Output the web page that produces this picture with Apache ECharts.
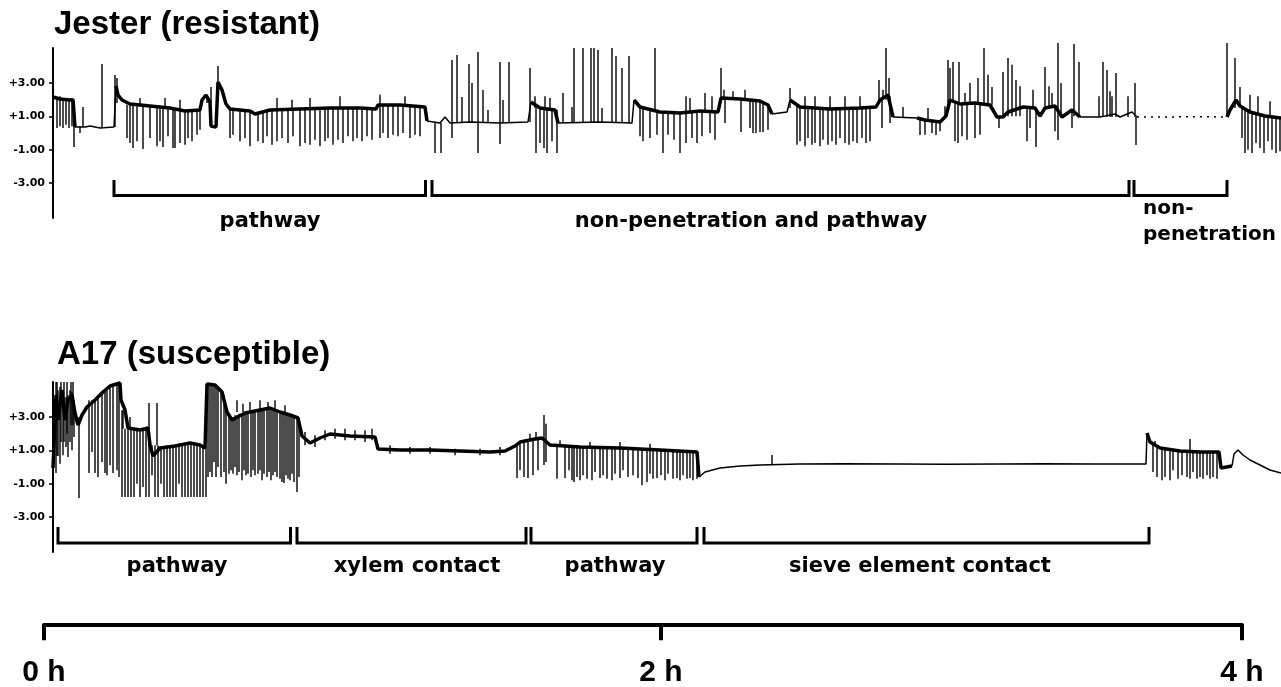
<!DOCTYPE html>
<html>
<head>
<meta charset="utf-8">
<title>EPG traces</title>
<script src="https://cdn.jsdelivr.net/npm/echarts@6/dist/echarts.min.js"></script>
<style>
  html, body { margin: 0; padding: 0; background: #fff; }
  #chart { width: 1281px; height: 687px; }
</style>
</head>
<body>
<div id="chart"></div>
<script>
// time in minutes from the start of the recording, signal in volts

const yTicks = [-3, -1, 1, 3]
// the middle mark of the scale bar sits a little right of halfway in the figure
const timeTicks = [0, 123.6, 240]
const timeTickLabels = ['0 h', '2 h', '4 h']

// Jester (resistant): noisy band, quiet baseline, dotted stretch
const jesterBand = [
  [[1.8, 2.16], [3.2, 2.04], [5.2, 1.98], [5.8, 2.0], [6.2, 0.36]],
  [[14.4, 2.82], [14.8, 2.28], [15.6, 1.98], [17.2, 1.74], [21.2, 1.62], [25.2, 1.5], [28.2, 1.32], [31.2, 1.38], [31.6, 1.98], [32.4, 2.28], [33.2, 1.86], [33.4, 0.42], [34.4, 0.36], [34.8, 3.06], [35.6, 2.58], [36.4, 1.74], [37.2, 1.44], [41.2, 1.32], [42.2, 1.14], [45.2, 1.38], [51.2, 1.44], [57.2, 1.5], [63.2, 1.5], [66.4, 1.44], [66.8, 1.68], [71.2, 1.68], [76.2, 1.56], [76.6, 0.72]],
  [[97.4, 1.86], [99.2, 1.5], [102.2, 1.38], [102.8, 0.6]],
  [[118.0, 1.98], [119.2, 1.56], [123.2, 1.26], [127.2, 1.2], [131.2, 1.32], [134.8, 1.26], [135.4, 2.1], [139.2, 2.04], [143.2, 1.92], [144.8, 1.68], [145.6, 1.14]],
  [[149.2, 1.98], [151.2, 1.56], [157.2, 1.44], [163.2, 1.5], [166.4, 1.56], [167.2, 1.98], [168.8, 2.28], [169.8, 0.96]],
  [[174.6, 0.9], [176.2, 0.78], [179.2, 0.66], [180.4, 1.02], [181.2, 1.98], [183.2, 1.74], [186.2, 1.8], [189.2, 1.68], [190.6, 0.96], [191.8, 0.96], [192.8, 1.26], [195.8, 1.56], [198.2, 1.5], [199.2, 1.02], [200.2, 1.5], [202.2, 1.62], [203.6, 0.96], [205.6, 1.38], [207.2, 0.96]],
  [[236.6, 0.96], [237.2, 1.38], [238.4, 1.98], [239.2, 1.62], [241.2, 1.26], [244.2, 1.02], [247.4, 0.9]]
]
const jesterQuiet = [
  [[6.2, 0.36], [8.2, 0.36], [9.2, 0.42], [11.2, 0.3], [14.0, 0.36], [14.4, 2.82]],
  [[76.6, 0.72], [79.2, 0.6], [80.2, 0.96], [81.2, 0.6], [85.2, 0.66], [91.2, 0.6], [96.8, 0.66], [97.4, 1.86]],
  [[102.8, 0.6], [111.2, 0.66], [117.6, 0.6], [118.0, 1.98]],
  [[145.6, 1.14], [148.6, 1.26], [149.2, 1.98]],
  [[169.8, 0.96], [174.6, 0.9]],
  [[207.2, 0.96], [211.2, 0.96], [214.2, 1.14], [215.2, 0.96], [217.6, 1.26], [218.6, 0.96]]
]
const jesterDotted = [
  [[218.6, 0.96], [224.0, 0.96], [230.0, 0.98], [236.6, 0.96]]
]
// [time, low, high]
const jesterSpikes = [
  [2.6, 0.3, 2.1], [3.2, 0.4, 2.2], [3.8, 0.3, 2.0], [4.4, 0.5, 2.1], [5.0, 0.3, 2.0], [5.6, 0.4, 2.0], [6.0, -0.84, 0.4],
  [7.2, 0, 0.4], [7.8, 0.36, 1.56], [11.6, 0.3, 4.14], [14.2, 0.36, 3.48], [14.6, 1.8, 3.3],
  [16.6, -0.3, 1.7], [17.2, -0.6, 1.7], [17.8, -0.9, 1.7], [18.6, -0.5, 1.6], [19.8, -0.96, 1.6], [21.2, -0.3, 1.6], [22.6, -0.8, 1.6], [23.2, -0.5, 1.6], [23.8, -0.84, 1.55], [24.8, -0.2, 1.5], [25.8, -0.9, 1.5], [26.2, -0.9, 1.5], [27.2, -0.6, 1.4], [28.2, -0.7, 1.35], [28.8, -0.3, 1.35], [29.6, -0.5, 1.35], [30.6, -0.1, 1.4], [31.2, 0.2, 1.4],
  [19.2, 1.6, 2.1], [24.2, 1.5, 2.1], [27.2, 1.4, 2.0],
  [32.6, 1.8, 2.3], [33.4, 1.8, 2.76], [34.8, 2.5, 4.02],
  [37.2, -0.3, 1.45], [37.8, -0.1, 1.45], [39.2, -0.5, 1.4], [40.2, -0.3, 1.35], [41.2, -0.8, 1.3], [42.8, -0.5, 1.2], [43.8, -0.6, 1.3], [44.6, -0.2, 1.35], [45.6, -0.7, 1.4], [46.6, -0.5, 1.4], [47.6, -0.3, 1.4], [48.8, -0.6, 1.4], [49.8, -0.2, 1.45], [51.2, -0.8, 1.45], [52.2, -0.6, 1.45], [53.2, -0.7, 1.45], [54.2, -0.4, 1.5], [55.2, -0.8, 1.5], [56.2, -0.5, 1.5], [56.8, -0.3, 1.5], [57.8, -0.7, 1.5], [58.8, -0.4, 1.5], [59.8, -0.6, 1.5], [60.8, -0.2, 1.5], [61.8, -0.5, 1.5], [62.6, -0.3, 1.5], [63.6, -0.5, 1.5], [64.6, -0.2, 1.45], [65.6, -0.4, 1.45], [67.2, -0.3, 1.7], [67.8, 0.0, 1.7], [68.8, -0.3, 1.7], [69.8, -0.1, 1.7], [70.8, -0.2, 1.7], [71.8, 0, 1.7], [73.2, -0.3, 1.6], [74.2, -0.1, 1.6], [75.2, -0.2, 1.6],
  [46.6, 1.4, 2.1], [49.6, 1.4, 2.0], [53.2, 1.4, 2.1], [59.2, 1.5, 2.2], [67.2, 1.6, 2.3], [72.2, 1.6, 2.2],
  [78.2, -1.2, 0.6], [79.4, -1.2, 0.6],
  [81.6, -0.3, 4.38], [82.6, 0.6, 4.68], [83.6, 0.6, 2.16], [85.0, 0.6, 4.14], [85.6, 0.6, 3.0], [86.8, -1.2, 4.86], [87.8, 0.6, 2.58], [88.8, 0.6, 1.38], [91.2, -0.66, 4.26], [91.8, 0.6, 1.98], [93.0, 0.6, 4.26], [97.2, 0.66, 3.9],
  [98.4, -1.2, 1.5], [99.2, -0.6, 1.5], [100.0, -0.9, 1.5], [100.6, -1.2, 1.5], [101.6, -0.5, 1.4], [102.6, -1.2, 1.4], [98.2, 1.5, 2.2], [100.2, 1.5, 2.2], [101.2, 1.4, 2.1],
  [103.8, 0.6, 2.4], [105.6, 0.6, 1.56], [106.0, 0.6, 5.1], [107.8, 0.6, 5.1], [109.4, 0.6, 5.1], [110.0, 0.6, 5.1], [110.8, 0.6, 4.98], [111.6, 0.6, 1.5], [113.6, 0.6, 5.1], [114.4, 0.6, 4.62], [115.6, 0.6, 3.9], [117.0, 0.6, 4.62],
  [119.2, -0.2, 1.5], [119.8, -0.5, 1.5], [121.2, -0.3, 1.4], [122.6, -0.1, 1.3], [123.8, -1.2, 1.3], [124.8, -0.1, 1.25], [126.0, -0.4, 1.2], [127.2, -1.2, 1.2], [128.4, -0.6, 1.25], [129.6, -0.3, 1.3], [130.6, -0.6, 1.3], [131.6, -0.2, 1.3], [133.2, 0, 1.3], [134.2, -0.4, 1.3],
  [122.2, 1.3, 5.1], [128.4, 1.3, 2.2], [129.2, 1.3, 2.1], [132.2, 1.3, 2.4], [133.6, 1.3, 2.2],
  [135.4, 2.0, 3.9],
  [136.2, 0.6, 2.1], [139.4, 0.06, 2.05], [141.2, 0.3, 2.0], [141.8, 0.0, 2.0], [142.4, 0.0, 1.95], [143.2, 0.06, 1.9], [143.8, 0.06, 1.8], [144.8, 0.2, 1.7], [136.0, 2.0, 2.6], [137.8, 2.0, 2.5], [140.2, 2.0, 2.6],
  [149.2, 1.5, 2.7],
  [150.6, -0.7, 1.6], [151.2, -0.5, 1.55], [152.2, -0.8, 1.5], [152.8, -0.3, 1.5], [153.6, -0.7, 1.5], [154.2, -0.6, 1.5], [155.2, -0.8, 1.45], [155.8, -0.4, 1.45], [156.8, -0.7, 1.45], [157.6, -0.5, 1.45], [158.4, -0.7, 1.45], [159.2, -0.3, 1.45], [160.2, -0.6, 1.5], [161.0, -0.7, 1.5], [161.8, -0.5, 1.5], [162.6, -0.6, 1.5], [163.6, -0.3, 1.5], [164.4, -0.6, 1.55], [165.2, -0.5, 1.55],
  [152.2, 1.5, 2.2], [154.2, 1.5, 2.2], [157.2, 1.45, 2.2], [160.2, 1.5, 2.2], [163.2, 1.5, 2.2],
  [167.0, 2.0, 3.18], [167.8, 2.0, 2.6], [168.4, 2.0, 5.1], [169.0, 2.0, 3.3], [169.2, 0.6, 2.2], [167.6, 0.3, 2.1],
  [171.8, 0.9, 1.56],
  [175.2, -0.12, 0.9], [176.2, -0.1, 0.8], [177.6, 0.0, 0.7], [178.4, -0.12, 0.7], [179.2, 0.1, 0.7], [176.8, 0.8, 1.5], [180.2, 1.0, 1.6],
  [180.8, 1.8, 4.38], [181.2, 1.8, 3.9], [181.8, 1.8, 4.26], [183.0, 1.8, 4.26], [184.2, 1.8, 2.4], [185.2, 1.8, 3.0], [186.8, 1.8, 3.3], [188.0, 1.8, 5.1], [188.8, 1.8, 3.5], [189.6, 1.7, 2.76],
  [182.2, -0.5, 1.8], [182.8, -0.6, 1.8], [183.6, -0.2, 1.8], [184.6, -0.4, 1.8], [186.2, -0.3, 1.8], [187.2, -0.1, 1.7],
  [191.0, 0.3, 0.96], [191.8, 0.96, 3.66], [192.8, 1.0, 4.5], [193.6, 1.0, 4.1], [194.4, 1.0, 3.18], [195.2, 1.0, 2.8],
  [196.6, -0.5, 1.56], [197.2, 0.3, 1.56], [198.4, -0.84, 1.5], [197.8, 1.56, 2.6],
  [200.2, 1.5, 3.96], [201.0, 1.5, 2.8], [201.6, 1.5, 2.4], [202.2, 0.1, 1.6], [202.8, -0.42, 5.4], [203.4, 1.0, 3.0],
  [205.6, 0.3, 1.4], [206.0, 1.0, 5.34], [207.0, 1.0, 4.26],
  [211.0, 0.96, 2.2], [211.8, 0.96, 4.26], [212.6, 0.96, 3.78], [213.2, 0.96, 2.5], [213.6, 0.96, 2.2], [214.4, 0.96, 3.6],
  [216.8, 0.96, 2.2], [218.2, 0.96, 3.0], [218.4, -0.72, 0.96],
  [236.6, 0.96, 5.4], [238.2, 1.5, 4.5],
  [239.6, -0.3, 1.5], [240.2, -1.2, 1.4], [240.8, -1.0, 1.3], [241.6, -1.2, 1.3], [242.4, -0.6, 1.2], [243.2, -0.9, 1.1], [244.0, -1.2, 1.1], [244.8, -0.5, 1.0], [245.6, -1.0, 1.0], [246.4, -1.2, 1.0], [247.2, -1.1, 0.9],
  [239.2, 1.6, 2.76], [241.2, 1.3, 2.3], [242.8, 1.2, 2.2], [245.2, 1.0, 1.9]
]
const jesterBrackets = [[14.0, 76.3], [77.6, 217.0], [218.0, 236.6]]
const jesterLabels = ['pathway', 'non-penetration and pathway', 'non-\npenetration']
const jesterLabelTimes = [45.2, 141.4, 219.8]

// A17 (susceptible)
const a17Band = [
  [[1.8, -0.06], [2.2, -0.18], [2.4, 4.32], [2.8, 2.82], [3.6, 4.62], [4.2, 2.82], [4.8, 4.02], [5.6, 4.32], [6.2, 3.24], [6.8, 2.52], [7.6, 3.12], [8.6, 3.6], [10.2, 4.02], [11.8, 4.5], [13.2, 4.86], [15.2, 5.04], [15.4, 4.02], [16.2, 3.42], [16.8, 2.34], [19.2, 2.22], [20.8, 2.34], [21.2, 1.32], [21.8, 0.66], [23.2, 1.14], [26.2, 1.26], [29.2, 1.44], [31.2, 1.32], [32.2, 1.14], [32.6, 4.98], [34.2, 4.92], [35.6, 4.5], [36.6, 3.3], [37.6, 2.82], [40.2, 3.24], [43.2, 3.42], [45.2, 3.54], [47.2, 3.3], [49.2, 3.12], [50.8, 2.94], [51.6, 1.86], [53.2, 1.44], [55.2, 1.74], [57.2, 1.98], [61.2, 1.86], [66.2, 1.8], [66.8, 1.08], [71.2, 1.02], [77.2, 1.02], [83.2, 0.96], [89.2, 0.9], [92.2, 0.96], [94.2, 1.26], [95.2, 1.5], [98.2, 1.68], [99.6, 1.74], [101.2, 1.32], [107.2, 1.2], [115.2, 1.14], [123.2, 1.02], [130.6, 0.9], [131.0, -0.6]],
  [[220.6, 2.04], [221.2, 1.5], [223.2, 1.14], [227.2, 0.96], [231.2, 0.9], [235.0, 0.9], [235.4, -0.06], [237.6, 0.06]]
]
const a17Quiet = [
  [[131.0, -0.6], [132.2, -0.3], [135.2, -0.06], [139.2, 0.06], [143.2, 0.12], [151.2, 0.18], [160.0, 0.2], [171.2, 0.18], [180.0, 0.16], [191.2, 0.18], [200.0, 0.2], [210.0, 0.18], [220.4, 0.18], [220.6, 2.04]],
  [[237.6, 0.06], [238.0, 0.78], [238.8, 1.02], [239.8, 0.72], [241.2, 0.42], [243.2, 0.12], [245.2, -0.18], [247.4, -0.36]]
]
const a17Spikes = [
  [2.4, -0.36, 5.1], [2.6, 0.66, 5.1], [2.8, 0.66, 4.6], [3.2, 0.2, 4.8], [3.4, 1.5, 5.1], [3.8, 0.7, 4.6], [4.0, 1.5, 5.1], [4.4, 1.2, 4.2], [4.6, 2.0, 5.1], [4.8, 0.6, 4.3], [5.2, 1.5, 4.6], [5.4, 2.5, 5.1], [5.6, 1.0, 4.5], [5.8, 2.5, 5.1], [6.0, 1.8, 4.0],
  [7.0, -1.86, 3.0],
  [9.0, -0.36, 4.0], [9.6, 0.9, 4.0], [10.2, -0.36, 4.1], [10.8, -0.6, 4.2], [11.6, 0.3, 4.4], [12.2, -0.36, 4.5], [12.6, -0.5, 4.6], [13.2, 0.1, 4.8], [13.8, -0.36, 4.9], [14.6, -0.2, 5.0], [15.0, -0.6, 5.0], [15.6, -1.8, 3.4],
  [16.2, -1.8, 2.3], [16.8, -1.8, 2.3], [17.4, -1.8, 2.3], [18.0, -1.8, 2.3], [18.6, -1.0, 2.3], [19.2, -1.8, 2.3], [19.8, -1.2, 2.3], [20.4, -1.8, 2.3], [21.0, -1.8, 2.3],
  [15.8, 2.3, 3.4], [17.2, 2.3, 3.0], [21.0, 1.3, 3.84],
  [21.6, -0.5, 1.3], [22.2, -1.8, 1.3], [22.8, -1.8, 1.3], [23.4, -1.0, 1.2], [24.0, -1.8, 1.2], [24.6, -1.8, 1.3], [25.2, -1.8, 1.3], [25.8, -1.8, 1.3], [26.4, -1.8, 1.3], [27.0, -1.0, 1.4], [27.6, -1.8, 1.4], [28.2, -1.8, 1.4], [28.8, -1.8, 1.4], [29.4, -1.8, 1.4], [30.0, -1.8, 1.4], [30.6, -1.8, 1.3], [31.2, -1.8, 1.3], [31.8, -1.8, 1.2], [32.4, -1.8, 1.2],
  [22.6, 1.3, 3.84],
  [32.8, -0.6, 5.0], [33.2, -0.3, 5.0], [33.6, -0.6, 5.0], [34.0, 0.3, 4.9], [34.4, -0.6, 4.9], [34.8, 0.0, 4.8], [35.4, -0.6, 4.6], [36.0, -0.3, 4.3], [36.4, -1.0, 3.6],
  [37.0, -0.4, 3.0], [37.4, -0.2, 3.0], [37.8, -0.4, 3.0], [38.2, 0.0, 3.1], [38.6, -0.5, 3.1], [39.0, -0.3, 3.2], [39.6, -0.8, 3.2], [40.0, -0.2, 3.2], [40.4, -0.5, 3.3], [40.8, -0.4, 3.3], [41.4, -0.6, 3.3], [41.8, -0.2, 3.4], [42.2, -0.5, 3.4], [42.8, -0.4, 3.4], [43.2, -0.2, 3.4], [43.6, -0.8, 3.5], [44.0, -0.4, 3.5], [44.6, -0.6, 3.5], [45.0, -0.3, 3.5], [45.4, -0.8, 3.5], [45.8, -0.5, 3.4], [46.2, -0.3, 3.4], [46.6, -0.6, 3.3], [47.2, -0.7, 3.3], [47.6, -0.9, 3.2], [48.0, -0.96, 3.2], [48.4, -0.5, 3.2], [48.8, -0.7, 3.1], [49.2, -0.8, 3.1], [49.6, -0.4, 3.0], [50.0, -0.9, 3.0], [50.6, -1.5, 2.9], [51.0, -0.6, 2.9],
  [38.6, 3.3, 4.0], [39.8, 3.3, 3.8], [41.2, 3.3, 3.9], [43.2, 3.4, 4.0], [44.8, 3.4, 3.9], [46.2, 3.3, 4.0], [48.2, 3.2, 3.7],
  [52.2, 1.3, 2.1], [54.2, 1.2, 1.9], [56.2, 1.6, 2.2], [58.2, 1.7, 2.3], [60.2, 1.6, 2.3], [62.2, 1.6, 2.2], [64.2, 1.5, 2.2], [65.6, 1.6, 2.3],
  [69.2, 0.8, 1.3], [73.2, 0.8, 1.2], [77.2, 0.8, 1.2], [82.2, 0.7, 1.1], [87.2, 0.7, 1.1], [91.2, 0.7, 1.2],
  [94.6, -0.66, 1.3], [95.2, -0.2, 1.5], [96.0, -0.6, 1.6], [96.8, -0.66, 1.6], [97.8, -0.5, 1.7], [98.8, -0.2, 1.7], [97.2, 1.6, 2.0], [98.4, 1.6, 2.1],
  [100.0, 0.12, 3.12], [100.4, 0.3, 2.6],
  [102.6, -0.7, 1.3], [104.2, -0.66, 1.3], [105.0, -0.2, 1.3], [105.6, -0.8, 1.25], [106.0, -0.9, 1.25], [106.6, -0.6, 1.25], [107.2, -0.8, 1.2], [107.8, -0.5, 1.2], [108.6, -0.7, 1.2], [109.6, -0.8, 1.2], [110.2, -0.3, 1.2], [111.2, -0.66, 1.2], [111.8, -0.5, 1.15], [112.6, -0.7, 1.15], [113.6, -0.8, 1.15], [114.2, -0.4, 1.15], [115.2, -0.66, 1.15], [115.8, -0.2, 1.1], [116.8, -0.6, 1.1], [117.8, -0.5, 1.1], [118.8, -0.66, 1.1], [119.6, -1.1, 1.05], [120.6, -0.9, 1.05], [121.2, -0.4, 1.05], [121.8, -0.7, 1.0], [122.6, -0.66, 1.0], [123.4, -0.5, 1.0], [124.2, -0.8, 1.0], [124.8, -0.4, 1.0], [125.8, -0.7, 1.0], [126.6, -0.66, 0.95], [127.2, -0.8, 0.95], [127.8, -0.5, 0.95], [128.6, -0.7, 0.95], [129.2, -0.66, 0.9], [129.8, -0.8, 0.9], [130.6, -0.7, 0.9],
  [103.2, 1.2, 1.6], [109.2, 1.2, 1.5], [115.2, 1.1, 1.5], [121.2, 1.0, 1.4],
  [145.6, 0.12, 0.72],
  [221.8, -0.3, 1.4], [222.6, -0.6, 1.3], [223.6, -0.8, 1.2], [224.2, -0.6, 1.1], [225.2, -0.8, 1.0], [225.8, -0.2, 1.0], [226.8, -0.7, 1.0], [227.6, -0.5, 1.0], [228.6, -0.6, 0.95], [229.2, -0.7, 0.95], [229.8, -0.3, 0.95], [230.6, -0.7, 0.9], [231.2, -0.6, 0.9], [231.8, -0.7, 0.9], [232.6, -0.5, 0.9], [233.2, -0.7, 0.9], [233.8, -0.6, 0.9], [234.6, -0.7, 0.9],
  [222.2, 1.3, 1.56], [229.2, 1.0, 1.68]
]
const a17Brackets = [[2.8, 49.3], [50.6, 96.4], [97.4, 130.6], [132.0, 221.0]]
const a17Labels = ['pathway', 'xylem contact', 'pathway', 'sieve element contact']
const a17LabelTimes = [26.6, 74.6, 114.2, 175.2]

const chart = echarts.init(document.getElementById('chart'), null, { renderer: 'canvas' })

const lineSeries = (segs, idx, width, type) => segs.map(seg => ({
  type: 'line',
  xAxisIndex: idx,
  yAxisIndex: idx,
  data: seg,
  symbol: 'none',
  clip: false,
  silent: true,
  animation: false,
  lineStyle: { color: '#000', width: width, type: type || 'solid' }
}))

const spikeSeries = (data, idx) => ({
  type: 'custom',
  xAxisIndex: idx,
  yAxisIndex: idx,
  data: data,
  silent: true,
  animation: false,
  renderItem: (params, api) => {
    const a = api.coord([api.value(0), api.value(1)])
    const b = api.coord([api.value(0), api.value(2)])
    return {
      type: 'line',
      shape: { x1: a[0], y1: a[1], x2: b[0], y2: b[1] },
      style: { stroke: '#000', lineWidth: 1.4 }
    }
  }
})

const bracketSeries = (data, idx, yTop, yBottom) => ({
  type: 'custom',
  xAxisIndex: idx,
  yAxisIndex: idx,
  data: data,
  silent: true,
  animation: false,
  renderItem: (params, api) => {
    const p1 = api.coord([api.value(0), yTop])
    const p2 = api.coord([api.value(0), yBottom])
    const p3 = api.coord([api.value(1), yBottom])
    const p4 = api.coord([api.value(1), yTop])
    return {
      type: 'polyline',
      shape: { points: [p1, p2, p3, p4] },
      style: { stroke: '#000', lineWidth: 3, fill: null, lineJoin: 'miter' }
    }
  }
})

const labelSeries = (times, texts, idx, yMid) => ({
  type: 'custom',
  xAxisIndex: idx,
  yAxisIndex: idx,
  data: times.map(t => [t]),
  silent: true,
  animation: false,
  renderItem: (params, api) => {
    const text = texts[params.dataIndex]
    const twoLines = text.indexOf('\n') >= 0
    const p = api.coord([api.value(0), yMid])
    return {
      type: 'text',
      x: p[0],
      y: p[1],
      style: {
        text: text,
        fill: '#000',
        fontSize: twoLines ? 20 : 21,
        fontWeight: 'bold',
        fontFamily: 'DejaVu Sans',
        align: twoLines ? 'left' : 'center',
        verticalAlign: 'middle',
        lineHeight: 26
      }
    }
  }
})

const traceY = (idx) => ({
  gridIndex: idx,
  type: 'value',
  min: -5.1,
  max: 5.1,
  axisLine: { show: true, onZero: false, lineStyle: { color: '#000', width: 2 } },
  axisTick: { show: true, customValues: yTicks, length: 4, lineStyle: { color: '#000', width: 1.5 } },
  axisLabel: {
    customValues: yTicks,
    margin: 8,
    color: '#000',
    fontSize: 11,
    fontWeight: 'bold',
    fontFamily: 'DejaVu Sans',
    formatter: v => (v > 0 ? '+' : '') + v.toFixed(2)
  },
  splitLine: { show: false }
})

const traceX = (idx) => ({
  gridIndex: idx,
  type: 'value',
  min: 1.8,
  max: 247.4,
  show: false
})

const titleStyle = { fontSize: 33, fontWeight: 'bold', fontFamily: 'Liberation Sans', color: '#000' }

const option = {
  backgroundColor: '#fff',
  animation: false,
  title: [
    { text: 'Jester (resistant)', left: 54, top: 8, padding: 0, textStyle: titleStyle },
    { text: 'A17 (susceptible)', left: 57, top: 338, padding: 0, textStyle: titleStyle }
  ],
  grid: [
    { left: 53, top: 48, width: 1228, height: 170 },
    { left: 53, top: 382, width: 1228, height: 170 },
    { left: 44, top: 624, width: 1198, height: 1 }
  ],
  xAxis: [
    traceX(0),
    traceX(1),
    {
      gridIndex: 2,
      type: 'value',
      min: 0,
      max: 240,
      axisLine: { show: true, lineStyle: { color: '#000', width: 4 } },
      axisTick: { show: true, customValues: timeTicks, length: 16, lineStyle: { color: '#000', width: 4 } },
      axisLabel: {
        customValues: timeTicks,
        margin: 33,
        color: '#000',
        fontSize: 30,
        fontWeight: 'bold',
        fontFamily: 'Liberation Sans',
        formatter: v => timeTickLabels[timeTicks.indexOf(v)]
      },
      splitLine: { show: false }
    }
  ],
  yAxis: [
    traceY(0),
    traceY(1),
    { gridIndex: 2, type: 'value', min: 0, max: 1, show: false }
  ],
  series: [
    ...lineSeries(jesterQuiet, 0, 1.5),
    ...lineSeries(jesterDotted, 0, 1.5, [2, 5]),
    ...lineSeries(jesterBand, 0, 3.5),
    spikeSeries(jesterSpikes, 0),
    bracketSeries(jesterBrackets, 0, -2.82, -3.75),
    labelSeries(jesterLabelTimes, jesterLabels, 0, -5.34),
    ...lineSeries(a17Quiet, 1, 1.5),
    ...lineSeries(a17Band, 1, 3.5),
    spikeSeries(a17Spikes, 1),
    bracketSeries(a17Brackets, 1, -3.6, -4.56),
    labelSeries(a17LabelTimes, a17Labels, 1, -6.0)
  ]
}

chart.setOption(option)
</script>
</body>
</html>
